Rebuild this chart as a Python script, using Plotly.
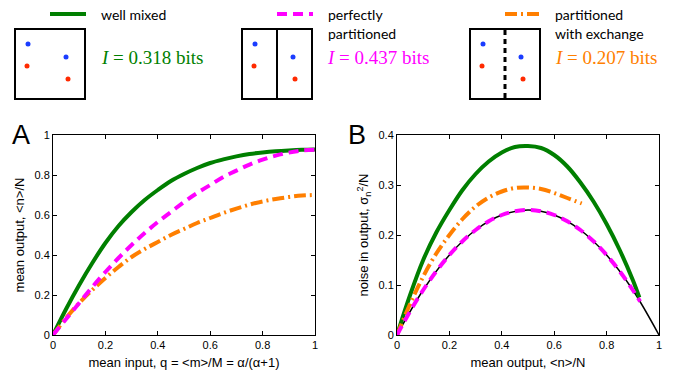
import plotly.graph_objects as go

# panel A: mean output vs mean input q
q_in = [0, 0.05, 0.1, 0.15, 0.2, 0.25, 0.3, 0.35, 0.4, 0.45, 0.5, 0.55, 0.6, 0.65, 0.7, 0.75, 0.8, 0.85, 0.9, 0.95, 1.0]
a_mixed = [0, 0.13, 0.25, 0.36, 0.46, 0.545, 0.615, 0.675, 0.725, 0.77, 0.805, 0.835, 0.86, 0.878, 0.893, 0.905, 0.913, 0.919, 0.923, 0.926, 0.928]
a_part = [0, 0.08, 0.16, 0.24, 0.315, 0.385, 0.45, 0.51, 0.565, 0.615, 0.665, 0.71, 0.75, 0.79, 0.822, 0.852, 0.877, 0.897, 0.912, 0.922, 0.927]
a_exch = [0, 0.085, 0.16, 0.225, 0.285, 0.34, 0.39, 0.43, 0.465, 0.5, 0.53, 0.56, 0.585, 0.61, 0.632, 0.652, 0.668, 0.68, 0.69, 0.697, 0.70]

# panel B: noise vs mean output
b_x_mixed = [0, 0.05, 0.1, 0.15, 0.2, 0.25, 0.3, 0.35, 0.4, 0.45, 0.5, 0.55, 0.6, 0.65, 0.7, 0.75, 0.8, 0.85, 0.9, 0.925]
b_mixed = [0, 0.08, 0.15, 0.205, 0.25, 0.29, 0.322, 0.347, 0.365, 0.376, 0.378, 0.374, 0.36, 0.337, 0.305, 0.267, 0.222, 0.17, 0.11, 0.075]
b_x_part = [0, 0.05, 0.1, 0.15, 0.2, 0.25, 0.3, 0.35, 0.4, 0.45, 0.5, 0.55, 0.6, 0.65, 0.7, 0.75, 0.8, 0.85, 0.9, 0.928]
b_part = [0, 0.0475, 0.09, 0.1275, 0.16, 0.1875, 0.21, 0.2275, 0.24, 0.2475, 0.25, 0.2475, 0.24, 0.2275, 0.21, 0.1875, 0.16, 0.1275, 0.09, 0.067]
b_x_exch = [0, 0.05, 0.1, 0.15, 0.2, 0.25, 0.3, 0.35, 0.4, 0.45, 0.5, 0.55, 0.6, 0.65, 0.705]
b_exch = [0, 0.062, 0.117, 0.163, 0.2, 0.232, 0.257, 0.275, 0.287, 0.294, 0.295, 0.292, 0.284, 0.274, 0.263]
b_x_ref = [0, 0.1, 0.2, 0.3, 0.4, 0.5, 0.6, 0.7, 0.8, 0.9, 1.0]
b_ref = [0, 0.09, 0.16, 0.21, 0.24, 0.25, 0.24, 0.21, 0.16, 0.09, 0]

GREEN = "#007f00"
MAGENTA = "#ff00ff"
ORANGE = "#ff7f00"
W, H = 675, 380

def px(x):
    return x / W

def py(y):
    return 1 - y / H

fig = go.Figure()

line_mixed = dict(color=GREEN, width=4)
line_part = dict(color=MAGENTA, width=4, dash="10px,6px")
line_exch = dict(color=ORANGE, width=4, dash="12px,4px,2px,4px")

def curve(x, y, ln, xa, ya):
    fig.add_scatter(x=x, y=y, mode="lines", line=ln, line_shape="spline", xaxis=xa, yaxis=ya,
                    hoverinfo="skip")

curve(q_in, a_mixed, line_mixed, "x", "y")
curve(q_in, a_exch, line_exch, "x", "y")
curve(q_in, a_part, line_part, "x", "y")

curve(b_x_ref, b_ref, dict(color="black", width=1.5), "x2", "y2")
curve(b_x_mixed, b_mixed, line_mixed, "x2", "y2")
curve(b_x_exch, b_exch, line_exch, "x2", "y2")
curve(b_x_part, b_part, line_part, "x2", "y2")

axis_style = dict(showline=True, linecolor="black", linewidth=1, mirror="ticks", ticks="inside",
                  ticklen=4, tickcolor="black", showgrid=False, zeroline=False, automargin=False,
                  tickfont=dict(family="Liberation Sans", size=11, color="black"))
title_font = dict(family="Liberation Sans", size=13, color="black")
ticks01 = dict(tickvals=[0, 0.2, 0.4, 0.6, 0.8, 1], ticktext=["0", "0.2", "0.4", "0.6", "0.8", "1"])

fig.update_layout(
    width=W, height=H, showlegend=False,
    margin=dict(l=0, r=0, t=0, b=0),
    plot_bgcolor="white", paper_bgcolor="white",
    xaxis=dict(axis_style, **ticks01, domain=[px(53), px(315)], range=[0, 1],
               title=dict(text="mean input, q = <m>/M = α/(α+1)", font=title_font, standoff=7), anchor="y"),
    yaxis=dict(axis_style, **ticks01, domain=[py(335), py(135)], range=[0, 1],
               title=dict(text="mean output, <n>/N", font=title_font, standoff=6), anchor="x"),
    xaxis2=dict(axis_style, **ticks01, domain=[px(397), px(659)], range=[0, 1],
                title=dict(text="mean output, <n>/N", font=title_font, standoff=7), anchor="y2"),
    yaxis2=dict(axis_style, domain=[py(335), py(135)], range=[0, 0.4], tickvals=[0, 0.1, 0.2, 0.3, 0.4],
                ticktext=["0", "0.1", "0.2", "0.3", "0.4"],
                title=dict(text="noise in output, σ<sub>n</sub><sup>2</sup>/N", font=title_font, standoff=6), anchor="x2"),
)

# panel letters
for letter, x, y in [("A", 21, 135), ("B", 357, 135)]:
    fig.add_annotation(text=letter, x=px(x), y=py(y), xref="paper", yref="paper", showarrow=False,
                       xanchor="center", yanchor="middle",
                       font=dict(family="Liberation Sans", size=27, color="black"))

# legend key lines
for x0, x1, ln in [(50, 86, line_mixed), (277, 313, line_part), (505, 540, line_exch)]:
    fig.add_shape(type="line", x0=px(x0), x1=px(x1), y0=py(14), y1=py(14), xref="paper", yref="paper",
                  line=ln)

legend_font = dict(family="Lato", size=14, color="black")
for text, x, y in [("well mixed", 99, 14), ("perfectly", 326, 14), ("partitioned", 326, 33),
                   ("partitioned", 553, 14), ("with exchange", 553, 33)]:
    fig.add_annotation(text=text, x=px(x), y=py(y), xref="paper", yref="paper", showarrow=False,
                       xanchor="left", yanchor="middle", align="left", font=legend_font)

# info labels
for val, x, col in [("0.318", 99, GREEN), ("0.437", 325, MAGENTA), ("0.207", 553, ORANGE)]:
    fig.add_annotation(text=f"<i>I</i> = {val} bits", x=px(x), y=py(57), xref="paper", yref="paper",
                       showarrow=False, xanchor="left", yanchor="middle",
                       font=dict(family="Liberation Serif", size=19, color=col))

# boxes
for x0 in [15, 242, 470]:
    fig.add_shape(type="rect", x0=px(x0), x1=px(x0 + 70), y0=py(29), y1=py(99), xref="paper", yref="paper",
                  line=dict(color="black", width=2))
fig.add_shape(type="line", x0=px(277), x1=px(277), y0=py(29), y1=py(99), xref="paper", yref="paper",
              line=dict(color="black", width=2))
fig.add_shape(type="line", x0=px(505), x1=px(505), y0=py(30), y1=py(98), xref="paper", yref="paper",
              line=dict(color="black", width=3, dash="5px,4px"))

# particles
for off in [0, 227, 455]:
    for dx, dy, col in [(13, 44, "#1a3cff"), (51, 57, "#1a3cff"), (12, 66, "#ff2a00"), (53, 79, "#ff2a00")]:
        cx, cy = 15 + off + dx, dy
        fig.add_shape(type="circle", x0=px(cx - 2.5), x1=px(cx + 2.5), y0=py(cy + 2.5), y1=py(cy - 2.5),
                      xref="paper", yref="paper", fillcolor=col, line=dict(width=0))

fig.write_html("out.html", config={"displayModeBar": False},
               post_script="document.body.style.margin='0';")
